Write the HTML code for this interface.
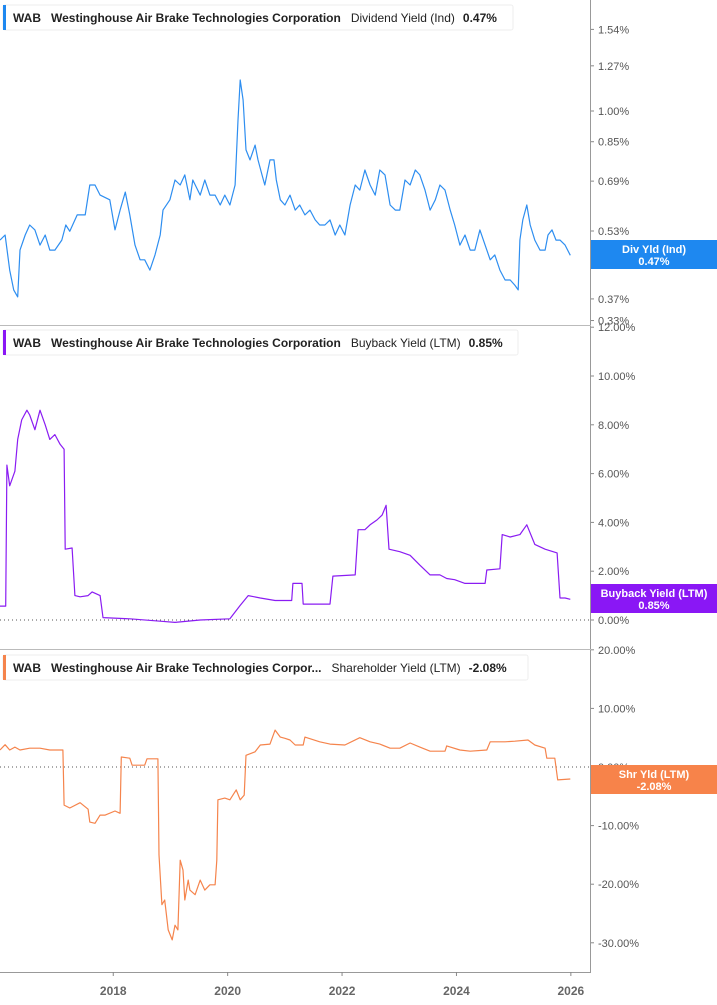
<!DOCTYPE html>
<html><head><meta charset="utf-8"><style>
body{margin:0;background:#fff;font-family:"Liberation Sans",sans-serif}
svg{display:block}
.tk{font-size:11px;fill:#555}
.yr{font-size:12px;font-weight:bold;fill:#666}
.hd{font-size:12px;font-weight:bold;fill:#222}
.hn{font-size:12px;fill:#222}
.lb{font-size:11px;font-weight:bold;fill:#fff}
</style></head><body>
<svg id="c" width="717" height="1005"></svg>
<script>
const divDates=[2016.02,2016.11,2016.19,2016.26,2016.33,2016.37,2016.46,2016.54,2016.63,2016.72,2016.81,2016.89,2016.98,2017.10,2017.17,2017.24,2017.37,2017.51,2017.59,2017.68,2017.77,2017.94,2018.03,2018.12,2018.21,2018.29,2018.38,2018.47,2018.55,2018.64,2018.73,2018.82,2018.87,2018.99,2019.08,2019.17,2019.25,2019.34,2019.39,2019.52,2019.60,2019.69,2019.78,2019.87,2019.95,2020.04,2020.13,2020.18,2020.22,2020.27,2020.32,2020.39,2020.48,2020.53,2020.60,2020.65,2020.74,2020.81,2020.85,2020.92,2021.00,2021.09,2021.18,2021.26,2021.35,2021.44,2021.53,2021.61,2021.70,2021.79,2021.88,2021.96,2022.05,2022.14,2022.23,2022.31,2022.40,2022.49,2022.58,2022.66,2022.75,2022.84,2022.93,2023.01,2023.10,2023.19,2023.28,2023.36,2023.45,2023.54,2023.63,2023.71,2023.80,2023.89,2023.97,2024.06,2024.15,2024.24,2024.32,2024.41,2024.50,2024.59,2024.67,2024.76,2024.85,2024.94,2025.02,2025.08,2025.11,2025.16,2025.23,2025.29,2025.37,2025.46,2025.55,2025.60,2025.67,2025.74,2025.81,2025.90,2025.99];
const divValues=[.505,.519,.431,.388,.374,.479,.519,.547,.533,.492,.519,.479,.479,.505,.547,.529,.577,.577,.676,.676,.641,.625,.533,.592,.651,.577,.492,.455,.455,.431,.467,.519,.592,.625,.694,.676,.713,.625,.694,.641,.694,.641,.641,.608,.641,.608,.676,.953,1.178,1.060,.814,.772,.835,.772,.713,.676,.772,.772,.694,.625,.608,.641,.592,.608,.577,.592,.562,.547,.547,.562,.519,.547,.519,.608,.676,.658,.732,.676,.641,.732,.713,.608,.592,.592,.694,.676,.732,.713,.658,.592,.625,.676,.658,.592,.547,.492,.519,.479,.479,.533,.492,.455,.467,.431,.409,.409,.398,.388,.505,.562,.608,.547,.505,.479,.479,.519,.533,.505,.505,.492,.466];
const divTicks=[1.54,1.27,1.00,0.85,0.69,0.53,0.37,0.33];

const bbDates=[2016.02,2016.12,2016.14,2016.19,2016.28,2016.33,2016.40,2016.49,2016.54,2016.63,2016.72,2016.81,2016.89,2016.98,2017.07,2017.14,2017.16,2017.28,2017.33,2017.42,2017.56,2017.63,2017.77,2017.82,2018.29,2018.82,2019.08,2019.52,2020.04,2020.22,2020.36,2020.57,2020.83,2021.12,2021.14,2021.30,2021.32,2021.79,2021.84,2022.23,2022.28,2022.40,2022.49,2022.61,2022.70,2022.77,2022.82,2023.01,2023.19,2023.36,2023.54,2023.71,2023.83,2023.97,2024.15,2024.50,2024.53,2024.76,2024.80,2024.94,2025.11,2025.23,2025.37,2025.55,2025.76,2025.81,2025.90,2025.99];
const bbValues=[0.57,0.57,6.35,5.5,6.1,7.4,8.2,8.6,8.4,7.8,8.6,8.0,7.4,7.6,7.2,7.0,2.9,2.95,1.0,0.95,1.0,1.15,1.0,0.1,0.05,-0.05,-0.1,0,0.05,0.6,1.0,0.9,0.8,0.8,1.5,1.5,0.65,0.65,1.8,1.85,3.7,3.7,3.9,4.1,4.3,4.7,2.9,2.8,2.65,2.25,1.85,1.85,1.7,1.65,1.5,1.5,2.05,2.1,3.5,3.4,3.5,3.9,3.1,2.9,2.75,0.9,0.9,0.85];
const bbTicks=[12,10,8,6,4,2,0];

const shDates=[2016.02,2016.11,2016.19,2016.28,2016.37,2016.54,2016.72,2016.89,2017.07,2017.12,2017.14,2017.24,2017.42,2017.56,2017.59,2017.68,2017.77,2017.86,2018.03,2018.12,2018.14,2018.29,2018.33,2018.55,2018.59,2018.78,2018.80,2018.85,2018.90,2018.96,2019.03,2019.08,2019.13,2019.17,2019.22,2019.25,2019.31,2019.34,2019.43,2019.52,2019.60,2019.69,2019.78,2019.81,2019.83,2019.95,2020.04,2020.15,2020.22,2020.29,2020.32,2020.48,2020.57,2020.74,2020.83,2020.92,2021.00,2021.09,2021.18,2021.32,2021.35,2021.61,2021.79,2022.05,2022.31,2022.49,2022.66,2022.84,2023.01,2023.19,2023.36,2023.54,2023.80,2023.83,2024.06,2024.24,2024.53,2024.59,2024.85,2025.02,2025.25,2025.37,2025.55,2025.58,2025.72,2025.77,2025.99];
const shValues=[2.9,3.8,2.9,3.4,2.9,3.2,3.2,2.9,2.9,2.9,-6.5,-7.0,-6.1,-7.2,-9.4,-9.6,-8.2,-8.2,-7.5,-7.9,1.7,1.5,0.3,0.3,1.4,1.4,-15,-23.5,-22.7,-27.8,-29.5,-27,-27.8,-15.9,-17.6,-22.7,-19.3,-21,-21.8,-19.3,-21,-20.1,-20.1,-15.9,-5.6,-5.3,-5.6,-3.9,-5.6,-4.8,2.0,2.6,3.75,3.9,6.3,5.1,4.9,4.6,3.75,3.75,5.1,4.3,3.9,3.75,5.0,4.3,3.9,3.2,3.2,4.1,3.4,2.7,2.7,3.6,2.9,2.7,2.9,4.3,4.3,4.4,4.6,3.75,3.2,1.5,1.5,-2.2,-2.05];
const shTicks=[20,10,0,-10,-20,-30];
const yearTicks=[2018,2020,2022,2024,2026];

const NS='http://www.w3.org/2000/svg', svg=document.getElementById('c');
function mk(tag,attrs,parent){const e=document.createElementNS(NS,tag);for(const k in attrs)e.setAttribute(k,attrs[k]);(parent||svg).appendChild(e);return e;}
const xS=y=>(y-2016.02)*57.2;
const yDiv=v=>111-189*Math.log(v);
const yBB=v=>620-24.4*v;
const ySH=v=>767-5.86*v;

function series(dates,vals,ys,color,name){
  let d='';dates.forEach((t,i)=>{d+=(i?'L':'M')+xS(t).toFixed(1)+' '+ys(vals[i]).toFixed(1);});
  const p=mk('path',{d:d,fill:'none',stroke:color,'stroke-width':1.2,'stroke-linejoin':'round'});
  
  
}
function ticks(arr,ys,fmt,name){
  arr.forEach(v=>{const y=ys(v);
    mk('line',{x1:591,x2:594,y1:y,y2:y,stroke:'#888'});
    const t=mk('text',{x:598,y:y+4,class:'tk'});t.textContent=fmt(v);
    
    
  });
}
function header(y,w,color,txt1,txt2,txt3,name){
  const g=mk('g',{});
  
  
  mk('rect',{x:3,y:y,width:w,height:25,fill:'#fff',stroke:'#eee',rx:2},g);
  mk('rect',{x:3,y:y,width:3,height:25,fill:color},g);
  const t=mk('text',{x:13,y:y+17,class:'hd'},g);
  t.innerHTML='WAB<tspan dx="10">'+txt1+'</tspan><tspan dx="10" class="hn" style="font-weight:normal">'+txt2+'</tspan><tspan dx="8">'+txt3+'</tspan>';
}
function badge(y,color,l1,l2,name){
  const g=mk('g',{});
  
  
  mk('rect',{x:591,y:y,width:126,height:29,fill:color},g);
  const a=mk('text',{x:654,y:y+13,class:'lb','text-anchor':'middle'},g);a.textContent=l1;
  const b=mk('text',{x:654,y:y+25,class:'lb','text-anchor':'middle'},g);b.textContent=l2;
}
// frame
mk('line',{x1:590.5,x2:590.5,y1:0,y2:972,stroke:'#999'});
mk('line',{x1:0,x2:591,y1:325.5,y2:325.5,stroke:'#bbb'});
mk('line',{x1:0,x2:591,y1:649.5,y2:649.5,stroke:'#bbb'});
mk('line',{x1:0,x2:591,y1:972.5,y2:972.5,stroke:'#999'});
mk('line',{x1:0,x2:590,y1:620,y2:620,stroke:'#555','stroke-dasharray':'1 3'});
mk('line',{x1:0,x2:590,y1:767,y2:767,stroke:'#555','stroke-dasharray':'1 3'});
ticks(divTicks,yDiv,v=>v.toFixed(2)+'%','div-y-tick');
ticks(bbTicks,yBB,v=>v.toFixed(2)+'%','buyback-y-tick');
ticks(shTicks,ySH,v=>v.toFixed(2)+'%','shareholder-y-tick');
yearTicks.forEach(yr=>{const x=xS(yr);
  mk('line',{x1:x,x2:x,y1:972,y2:976,stroke:'#888'});
  const t=mk('text',{x:x,y:995,class:'yr','text-anchor':'middle'});t.textContent=yr;
  
  
});
series(divDates,divValues,yDiv,'#2e8ef0','dividend-yield-line');
series(bbDates,bbValues,yBB,'#8a1cf2','buyback-yield-line');
series(shDates,shValues,ySH,'#f5844c','shareholder-yield-line');
header(5,510,'#1e88f0','Westinghouse Air Brake Technologies Corporation','Dividend Yield (Ind)','0.47%','dividend-legend');
header(330,515,'#8a17f5','Westinghouse Air Brake Technologies Corporation','Buyback Yield (LTM)','0.85%','buyback-legend');
header(655,525,'#f5844c','Westinghouse Air Brake Technologies Corpor...','Shareholder Yield (LTM)','-2.08%','shareholder-legend');
badge(240,'#1e88f0','Div Yld (Ind)','0.47%','dividend-value-badge');
badge(584,'#8a17f5','Buyback Yield (LTM)','0.85%','buyback-value-badge');
badge(765,'#f7834a','Shr Yld (LTM)','-2.08%','shareholder-value-badge');
</script>
</body></html>
